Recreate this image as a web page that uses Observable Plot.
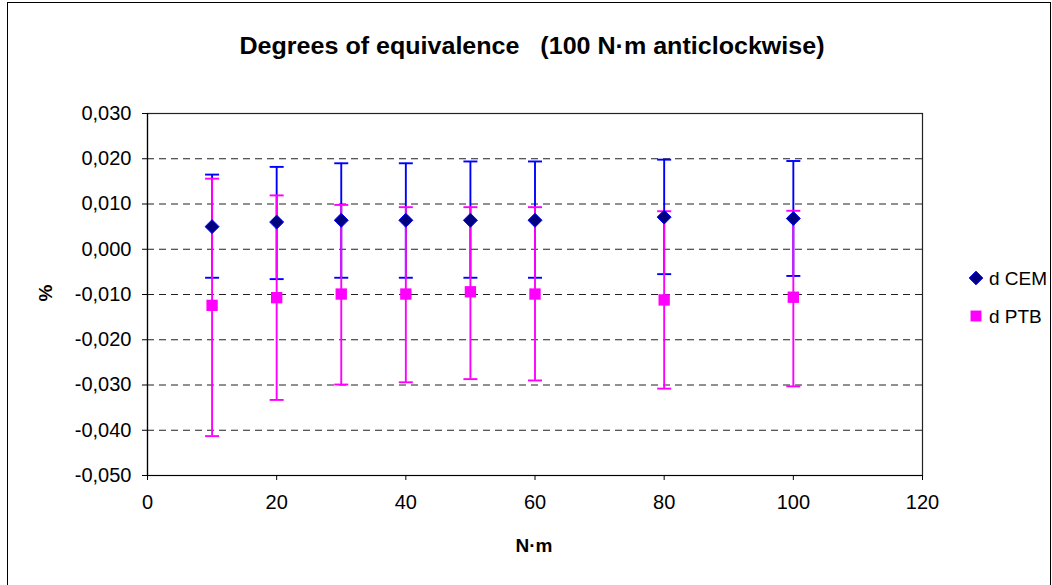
<!DOCTYPE html>
<html>
<head>
<meta charset="utf-8">
<script src="https://cdn.jsdelivr.net/npm/d3@7"></script>
<script src="https://cdn.jsdelivr.net/npm/@observablehq/plot@0.6"></script>
<style>
  html, body { margin: 0; padding: 0; background: #fff; }
  #chart { width: 1052px; height: 585px; overflow: hidden; }
</style>
</head>
<body>
<div id="chart"></div>
<script>
// ---- data (values in %) ----
const torques = [10, 20, 30, 40, 50, 60, 80, 100];
const cemValue = [0.0050, 0.0060, 0.0064, 0.0064, 0.0064, 0.0064, 0.0071, 0.0068];
const cemUpper = [0.0165, 0.0182, 0.0190, 0.0190, 0.0194, 0.0194, 0.0198, 0.0195];
const cemLower = [-0.0063, -0.0066, -0.0063, -0.0063, -0.0063, -0.0063, -0.0055, -0.0059];
const ptbValue = [-0.0124, -0.0107, -0.0099, -0.0099, -0.0094, -0.0099, -0.0112, -0.0106];
const ptbUpper = [0.0156, 0.0119, 0.0098, 0.0093, 0.0093, 0.0093, 0.0084, 0.0085];
const ptbLower = [-0.0413, -0.0333, -0.0299, -0.0294, -0.0287, -0.0290, -0.0308, -0.0303];
const yTicks = [-0.05, -0.04, -0.03, -0.02, -0.01, 0, 0.01, 0.02, 0.03];
const xTicks = [0, 20, 40, 60, 80, 100, 120];
const seriesNames = ["d CEM", "d PTB"];
const titleText = "Degrees of equivalence\u00A0\u00A0 (100 N\u00B7m anticlockwise)";
const xLabel = "N\u00B7m";
const yLabel = "%";

const cem = torques.map((t, i) => ({x: t, v: cemValue[i], hi: cemUpper[i], lo: cemLower[i]}));
const ptb = torques.map((t, i) => ({x: t, v: ptbValue[i], hi: ptbUpper[i], lo: ptbLower[i]}));

const blue = "#0000FF", navy = "#000080", magenta = "#FF00FF";
const font = "'Liberation Sans', Arial, sans-serif";

const fmt = d3.formatLocale({decimal: ",", thousands: ".", grouping: [3], currency: ["", ""], minus: "-"}).format(".3f");

const cap = {
  draw(ctx, size) {
    const r = Math.sqrt(size / Math.PI);
    ctx.moveTo(-r, 0);
    ctx.lineTo(r, 0);
  }
};

function errorMarks(data, color) {
  return [
    Plot.ruleX(data, {x: "x", y1: "lo", y2: "hi", stroke: color, strokeWidth: 1.9}),
    Plot.dot(data, {x: "x", y: "hi", symbol: cap, r: 7, stroke: color, strokeWidth: 1.9, fill: "none"}),
    Plot.dot(data, {x: "x", y: "lo", symbol: cap, r: 7, stroke: color, strokeWidth: 1.9, fill: "none"})
  ];
}

const W = 1052, H = 585;
const chart = Plot.plot({
  width: W,
  height: H,
  marginLeft: 147,
  marginRight: W - 922,
  marginTop: 113,
  marginBottom: H - 475,
  style: {fontFamily: font, fontSize: "20px", color: "#000", background: "#fff", overflow: "visible"},
  x: {domain: [0, 120], label: null},
  y: {domain: [-0.05, 0.03], label: null},
  marks: [
    Plot.ruleY(yTicks.filter(t => t > -0.05 && t < 0.03), {stroke: "#222", strokeDasharray: "7,5", strokeWidth: 1.1}),
    Plot.frame({stroke: "#222", strokeWidth: 1.2}),
    ...errorMarks(cem, blue),
    ...errorMarks(ptb, magenta),
    Plot.dot(cem, {x: "x", y: "v", symbol: "diamond2", r: 6.3, fill: navy, stroke: blue, strokeWidth: 1}),
    Plot.dot(ptb, {x: "x", y: "v", symbol: "square", r: 6.4, fill: magenta, stroke: "none"}),
    Plot.axisX({ticks: xTicks, tickSize: 5, tickPadding: 14, fontSize: 20, stroke: "#000", label: null}),
    Plot.axisY({ticks: yTicks, tickSize: 5, tickPadding: 11, fontSize: 20, tickFormat: fmt, label: null}),
    Plot.ruleY([-0.05], {stroke: "#000", strokeWidth: 1.2}),
    Plot.ruleX([0], {stroke: "#000", strokeWidth: 1.2})
  ]
});

const svg = d3.select(chart);
// outer chart border
svg.insert("rect", ":first-child")
  .attr("x", 7.5).attr("y", 2.5).attr("width", 1043).attr("height", 640)
  .attr("fill", "#fff").attr("stroke", "#000").attr("stroke-width", 1);

svg.append("text").text(titleText)
  .attr("x", 532).attr("y", 54).attr("text-anchor", "middle")
  .attr("textLength", 585).attr("lengthAdjust", "spacingAndGlyphs")
  .attr("font-family", font).attr("font-weight", "bold").attr("font-size", 23).attr("fill", "#000");

svg.append("text").text(xLabel)
  .attr("x", 534).attr("y", 552).attr("text-anchor", "middle")
  .attr("font-family", font).attr("font-weight", "bold").attr("font-size", 19).attr("fill", "#000");

svg.append("text").text(yLabel)
  .attr("transform", "translate(52,293) rotate(-90)").attr("text-anchor", "middle")
  .attr("font-family", font).attr("font-weight", "bold").attr("font-size", 19).attr("fill", "#000");

// legend
const legend = svg.append("g").attr("font-family", font).attr("font-size", 19).attr("text-anchor", "start");
const items = [
  {name: seriesNames[0], sym: d3.symbolDiamond2, fill: navy, stroke: blue, y: 278, size: Math.PI * 38},
  {name: seriesNames[1], sym: d3.symbolSquare, fill: magenta, stroke: "none", y: 316, size: Math.PI * 38}
];
items.forEach(it => {
  legend.append("path").attr("d", d3.symbol(it.sym, it.size)())
    .attr("transform", `translate(976,${it.y})`).attr("fill", it.fill).attr("stroke", it.stroke);
  legend.append("text").text(it.name).attr("x", 989).attr("y", it.y).attr("dy", "0.35em")
    .attr("text-anchor", "start").attr("fill", "#000");
});

document.getElementById("chart").appendChild(chart);
</script>
</body>
</html>
